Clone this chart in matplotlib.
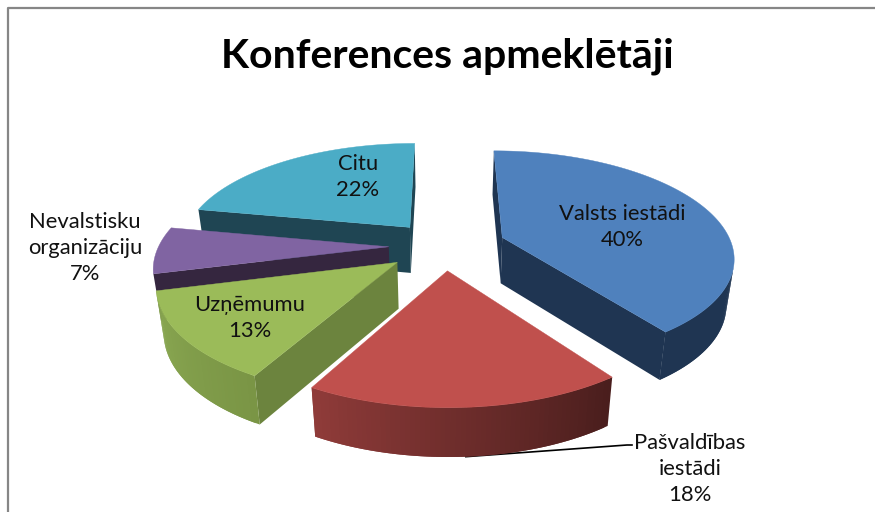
import numpy as np
import matplotlib
matplotlib.use("Agg")
import matplotlib.pyplot as plt
from matplotlib.colors import to_rgb

plt.rcParams['font.family'] = ['Lato', 'DejaVu Sans']

title = "Konferences apmeklētāji"
names = ["Valsts iestādi", "Pašvaldības\niestādi", "Uzņēmumu", "Nevalstisku\norganizāciju", "Citu"]
shares = [40, 18, 13, 7, 22]
explode = [0.27, 0.23, 0.25, 0.24, 0.24]
top_colors = ["#4F81BD", "#C0504D", "#9BBB59", "#8064A2", "#4BACC6"]
wall_colors = ["#1F3552", "#4A1E1D", "#6C843E", "#35263F", "#1F4553"]
# side colour of the rim, at the start and the end of each slice
rim_start = ["#1F3552", "#4A1E1D", "#7A9545", "#35263F", "#1F4553"]
rim_end = ["#1F3552", "#8F3B39", "#8AA852", "#35263F", "#1F4553"]
label_pos = [(622, 227), (690, 469), (250, 318), (85, 248), (358, 177)]
draw_order = [4, 3, 0, 2, 1]

CX, CY = 444, 246
RX, RY = 230, 104
K = 0.17
DEPTH = 46


def project(X, Y, z=0.0):
    # z = 0 top of the pie, z = 1 bottom
    s = 1 / (1 + K * Y)
    shrink = 1 - 0.027 * z
    return CX + X * RX * s * shrink, CY - Y * RY * s + z * DEPTH * s ** 0.3


def area(pts):
    x, y = np.array(pts).T
    return 0.5 * np.sum(x * np.roll(y, -1) - np.roll(x, -1) * y)


def draw_slice(ax, a0, a1, off, top, wall, c0, c1):
    mid = np.radians((a0 + a1) / 2)
    ox, oy = off * np.sin(mid), off * np.cos(mid)
    angles = np.linspace(a0, a1, max(int(a1 - a0), 2) + 1)
    px = ox + np.sin(np.radians(angles))
    py = oy + np.cos(np.radians(angles))

    # radial walls
    for ang, flip in ((a0, 1), (a1, -1)):
        ex, ey = ox + np.sin(np.radians(ang)), oy + np.cos(np.radians(ang))
        quad = [project(ox, oy), project(ex, ey), project(ex, ey, 1), project(ox, oy, 1)]
        if flip * area(quad) < 0:
            ax.fill(*zip(*quad), color=wall, lw=0, zorder=2)

    # rim, one facet per step so the shade can change along it
    # facets overlap the next one, otherwise the seams show
    c0, c1 = np.array(to_rgb(c0)), np.array(to_rgb(c1))
    n = len(angles)
    for i in range(n - 1):
        j = min(i + 2, n - 1)
        quad = [project(px[i], py[i]), project(px[j], py[j]),
                project(px[j], py[j], 1), project(px[i], py[i], 1)]
        if area(quad) < 0:
            col = c0 + (c1 - c0) * i / (n - 2)
            ax.fill(*zip(*quad), color=col, lw=0, zorder=2)

    outline = [project(ox, oy)] + [project(a, b) for a, b in zip(px, py)]
    ax.fill(*zip(*outline), color=top, lw=0.3, zorder=3)
    return ox, oy


fig = plt.figure(figsize=(8.75, 5.12), dpi=100)
ax = fig.add_axes([0, 0, 1, 1])
ax.set_xlim(0, 875)
ax.set_ylim(512, 0)
ax.axis('off')

# chart frame
ax.plot([8, 8, 875], [512, 8, 8], color="#868686", lw=1.6)

edges = np.cumsum([0] + shares) * 3.6
offsets = {}
for i in draw_order:
    offsets[i] = draw_slice(ax, edges[i], edges[i + 1], explode[i], top_colors[i],
                            wall_colors[i], rim_start[i], rim_end[i])

# leader line of the red slice
ang = np.radians(edges[1] + 0.5 * shares[1] * 3.6)
lx, ly = project(offsets[1][0] + np.sin(ang), offsets[1][1] + np.cos(ang), 1)
ax.plot([lx, 627, 632], [ly, 445, 445], color="black", lw=1.2, zorder=1)

ax.text(447, 56, title, ha='center', va='center', fontsize=29.5, fontweight='bold', color="black")
for name, share, (x, y) in zip(names, shares, label_pos):
    ax.text(x, y, f"{name}\n{share}%", ha='center', va='center', fontsize=15.8,
            color="#111111", linespacing=1.35, zorder=5)

fig.savefig("out.png", dpi=100)
